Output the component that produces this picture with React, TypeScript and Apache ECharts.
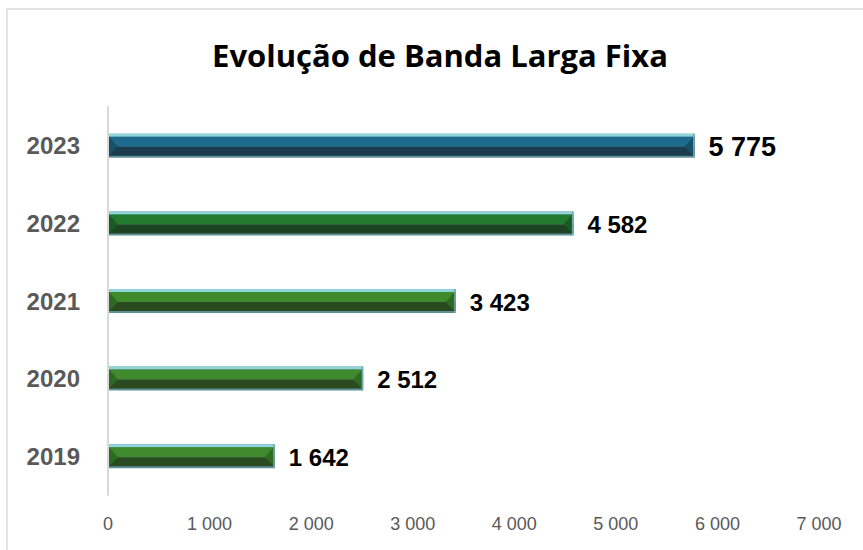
import React, { useEffect, useRef } from "react";
import * as echarts from "echarts";

const titleText = "Evolução de Banda Larga Fixa";
const years = ["2019", "2020", "2021", "2022", "2023"];
const values = [1642, 2512, 3423, 4582, 5775];
const xTicks = [0, 1000, 2000, 3000, 4000, 5000, 6000, 7000];

// style palette per bar (upper, lower, bevel)
const palette = [
  ["#3f8a2d", "#2a4a20", "#2f6a22"],
  ["#3f8a2d", "#2a4a20", "#2f6a22"],
  ["#3f8a2d", "#2a4a20", "#2f6a22"],
  ["#217a2f", "#1c4221", "#1a5a25"],
  ["#1e6a8c", "#1b3c4e", "#1a4f68"],
];

const fmt = (v: number) => {
  const s = String(Math.round(v));
  return s.replace(/\B(?=(\d{3})+(?!\d))/g, " ");
};

export default function App() {
  const ref = useRef<HTMLDivElement>(null);
  useEffect(() => {
    document.body.style.margin = "0";
    const chart = echarts.init(ref.current!, null, { renderer: "svg" });
    const barH = 24;
    const option: any = {
      animation: false,
      backgroundColor: "#ffffff",
      graphic: [
        {
          type: "rect",
          shape: { x: 7, y: 9, width: 1000, height: 700 },
          style: { fill: "none", stroke: "#d9d9d9", lineWidth: 1.5 },
          silent: true,
          z: -10,
        },
        {
          type: "text",
          x: 440,
          y: 55,
          style: {
            text: titleText,
            fontFamily: "Open Sans",
            fontWeight: "bold",
            fontSize: 31,
            fill: "#000000",
            textAlign: "center",
            textVerticalAlign: "middle",
          },
        },
      ],
      grid: { left: 108, right: 44, top: 107, bottom: 55, containLabel: false },
      xAxis: {
        type: "value",
        min: 0,
        max: 7000,
        interval: 1000,
        axisLine: { show: false },
        axisTick: { show: false },
        splitLine: { show: false },
        axisLabel: {
          margin: 20,
          color: "#595959",
          fontSize: 18,
          fontFamily: "Liberation Sans, Arial",
          formatter: (v: number) => (xTicks.includes(v) ? fmt(v) : ""),
        },
      },
      yAxis: {
        type: "category",
        data: years,
        axisLine: { show: true, lineStyle: { color: "#d9d9d9", width: 2 } },
        axisTick: { show: false },
        axisLabel: {
          margin: 28,
          color: "#595959",
          fontSize: 24,
          fontWeight: "bold",
          fontFamily: "Liberation Sans, Arial",
        },
      },
      series: [
        {
          type: "custom",
          data: values.map((v, i) => [v, i]),
          encode: { x: 0, y: 1 },
          renderItem: (params: any, api: any) => {
            const v = api.value(0);
            const idx = api.value(1);
            const p0 = api.coord([0, idx]);
            const p1 = api.coord([v, idx]);
            const x0 = p0[0] + 1;
            const x1 = p1[0];
            const y0 = p0[1] - barH / 2;
            const y1 = y0 + barH;
            const mid = y0 + barH / 2 + 1;
            const c = palette[idx];
            const big = idx === values.length - 1;
            const bev = 9;
            return {
              type: "group",
              children: [
                { type: "rect", shape: { x: x0, y: y0, width: x1 - x0, height: barH }, style: { fill: "#5e8f94" } },
                { type: "rect", shape: { x: x0, y: y0, width: x1 - x0, height: 3 }, style: { fill: "#8fd4db" } },
                { type: "rect", shape: { x: x0, y: y0 + 3, width: x1 - x0, height: mid - y0 - 3 }, style: { fill: c[0] } },
                { type: "rect", shape: { x: x0, y: mid, width: x1 - x0, height: y1 - 2 - mid }, style: { fill: c[1] } },
                { type: "polygon", shape: { points: [[x0, y0 + 3], [x0 + bev, mid], [x0, y1 - 2]] }, style: { fill: c[2] } },
                { type: "polygon", shape: { points: [[x1 - 1, y0 + 3], [x1 - 1 - bev, mid], [x1 - 1, y1 - 2]] }, style: { fill: c[2] } },
                { type: "rect", shape: { x: x1 - 1.5, y: y0, width: 1.5, height: barH }, style: { fill: "#6fa9b0" } },
                {
                  type: "text",
                  x: x1 + 14,
                  y: p1[1] + 1,
                  style: {
                    text: fmt(v),
                    fontFamily: "Liberation Sans, Arial",
                    fontWeight: "bold",
                    fontSize: big ? 27 : 24,
                    fill: "#000000",
                    textAlign: "left",
                    textVerticalAlign: "middle",
                  },
                },
              ],
            };
          },
        },
      ],
    };
    chart.setOption(option);
    return () => chart.dispose();
  }, []);
  return (
    <div
      ref={ref}
      style={{ position: "absolute", left: 0, top: 0, width: 863, height: 550 }}
    />
  );
}
